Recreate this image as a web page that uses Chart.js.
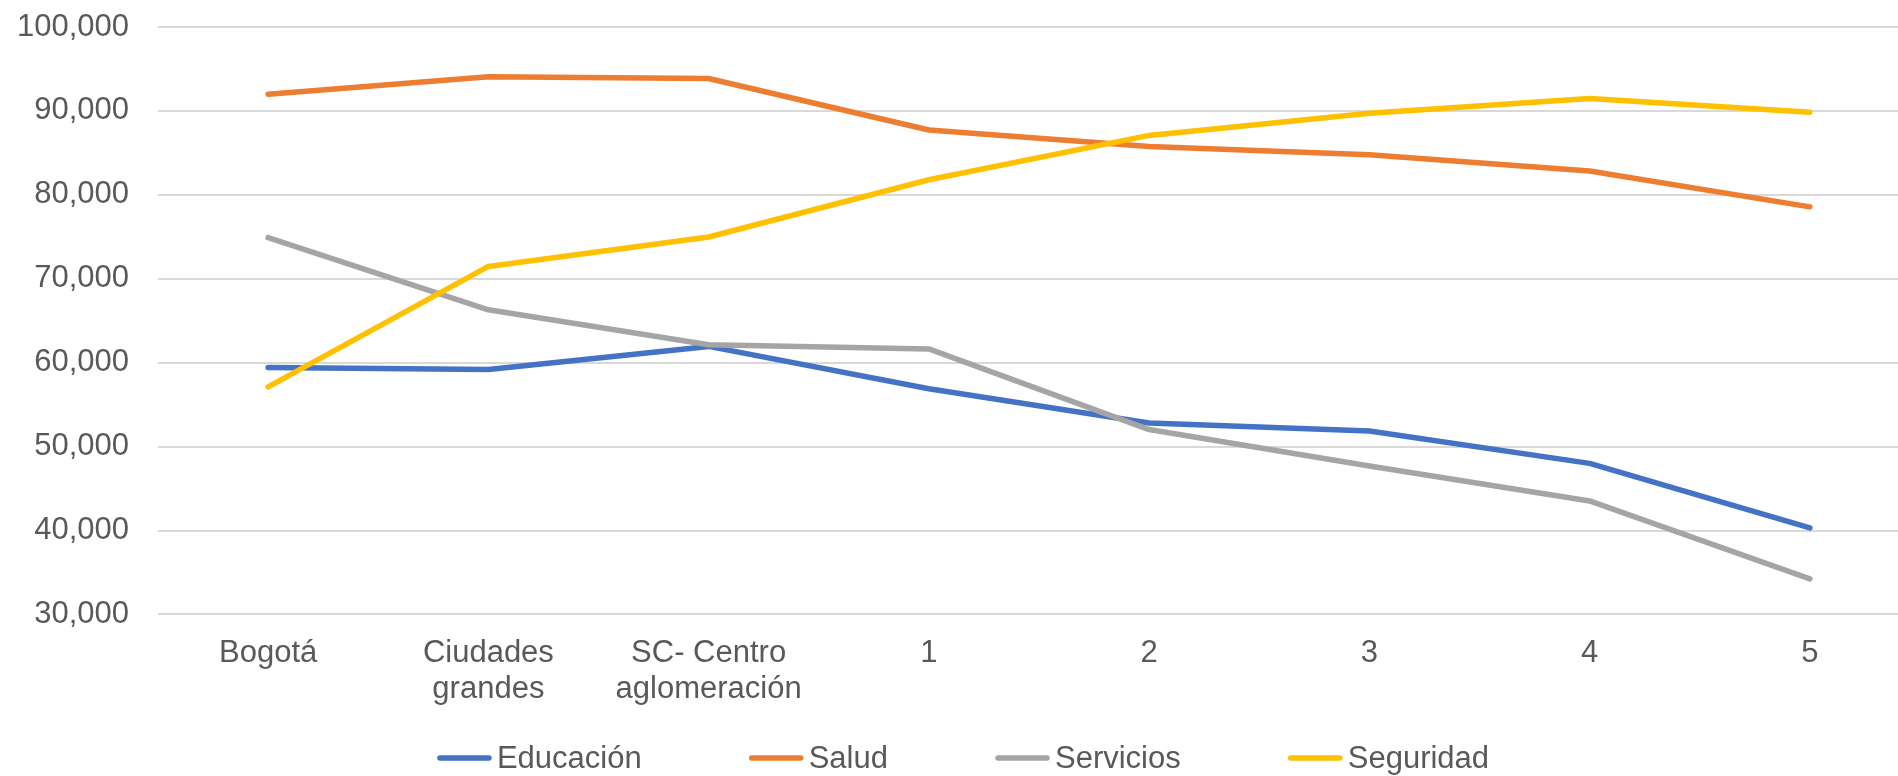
<!DOCTYPE html>
<html>
<head>
<meta charset="utf-8">
<script src="https://cdn.jsdelivr.net/npm/chart.js@4/dist/chart.umd.min.js"></script>
<style>
  html, body { margin: 0; padding: 0; background: #fff; overflow: hidden; }
  #wrap { width: 1922px; height: 776px; position: relative; }
</style>
</head>
<body>
<div id="wrap"><canvas id="grafico"></canvas></div>
<script>
// categorias del eje x
const categorias = ['Bogotá', ['Ciudades', 'grandes'], ['SC- Centro', 'aglomeración'], '1', '2', '3', '4', '5'];

// series
const educacion = [59430, 59190, 61940, 56890, 52820, 51860, 48000, 40310];
const salud = [92000, 94060, 93860, 87730, 85750, 84790, 82850, 78570];
const servicios = [74900, 66300, 62140, 61640, 52030, 47700, 43530, 34250];
const seguridad = [57120, 71470, 74980, 81800, 87080, 89720, 91490, 89850];

// eje y
const yMin = 30000;
const yMax = 100000;
const yPaso = 10000;

const fuente = "'Liberation Sans', Arial, sans-serif";
const gris = '#595959';

function serie(nombre, datos, color, orden) {
  return {
    label: nombre,
    data: datos,
    borderColor: color,
    backgroundColor: color,
    borderWidth: 5.5,
    pointRadius: 0,
    pointHoverRadius: 0,
    tension: 0,
    borderCapStyle: 'round',
    borderJoinStyle: 'round',
    order: orden
  };
}

// leyenda abajo, estilo Excel (linea + texto)
const leyenda = {
  id: 'leyenda',
  afterDraw(chart) {
    const c = chart.ctx;
    const items = chart.data.datasets;
    const largo = 55, sep = 5, hueco = 107, y = 758;
    c.save();
    c.font = '31px ' + fuente;
    c.textBaseline = 'middle';
    const anchos = items.map(d => largo + sep + c.measureText(d.label).width);
    const total = anchos.reduce((a, b) => a + b, 0) + hueco * (items.length - 1);
    let x = chart.width / 2 - total / 2 + 2;
    items.forEach((d, i) => {
      c.strokeStyle = d.borderColor;
      c.lineWidth = 5.5;
      c.lineCap = 'round';
      c.beginPath();
      c.moveTo(x + 3, y);
      c.lineTo(x + largo - 3, y);
      c.stroke();
      c.fillStyle = gris;
      c.fillText(d.label, x + largo + sep, y + 1);
      x += anchos[i] + hueco;
    });
    c.restore();
  }
};

const ctx = document.getElementById('grafico').getContext('2d');
new Chart(ctx, {
  type: 'line',
  data: {
    labels: categorias,
    datasets: [
      serie('Educación', educacion, '#4472C4', 4),
      serie('Salud', salud, '#ED7D31', 3),
      serie('Servicios', servicios, '#A5A5A5', 2),
      serie('Seguridad', seguridad, '#FFC000', 1)
    ]
  },
  plugins: [leyenda],
  options: {
    responsive: true,
    maintainAspectRatio: false,
    animation: false,
    layout: { padding: { left: 0, right: 2, top: 27, bottom: 47 } },
    plugins: {
      tooltip: { enabled: false },
      legend: { display: false }
    },
    scales: {
      x: {
        offset: true,
        grid: { display: false, drawTicks: false },
        border: { display: false },
        ticks: {
          color: gris,
          font: { family: fuente, size: 31, lineHeight: 1.17 },
          padding: 21,
          maxRotation: 0,
          autoSkip: false
        }
      },
      y: {
        min: yMin,
        max: yMax,
        grid: { color: '#D9D9D9', lineWidth: 2, drawTicks: false },
        border: { display: false },
        ticks: {
          stepSize: yPaso,
          color: gris,
          font: { family: fuente, size: 31 },
          padding: 29,
          callback: v => v.toLocaleString('en-US')
        },
        afterFit(s) {
          s.width = 158;
          s.paddingTop = 0;
          s.paddingBottom = 0;
        }
      }
    }
  }
});
</script>
</body>
</html>
